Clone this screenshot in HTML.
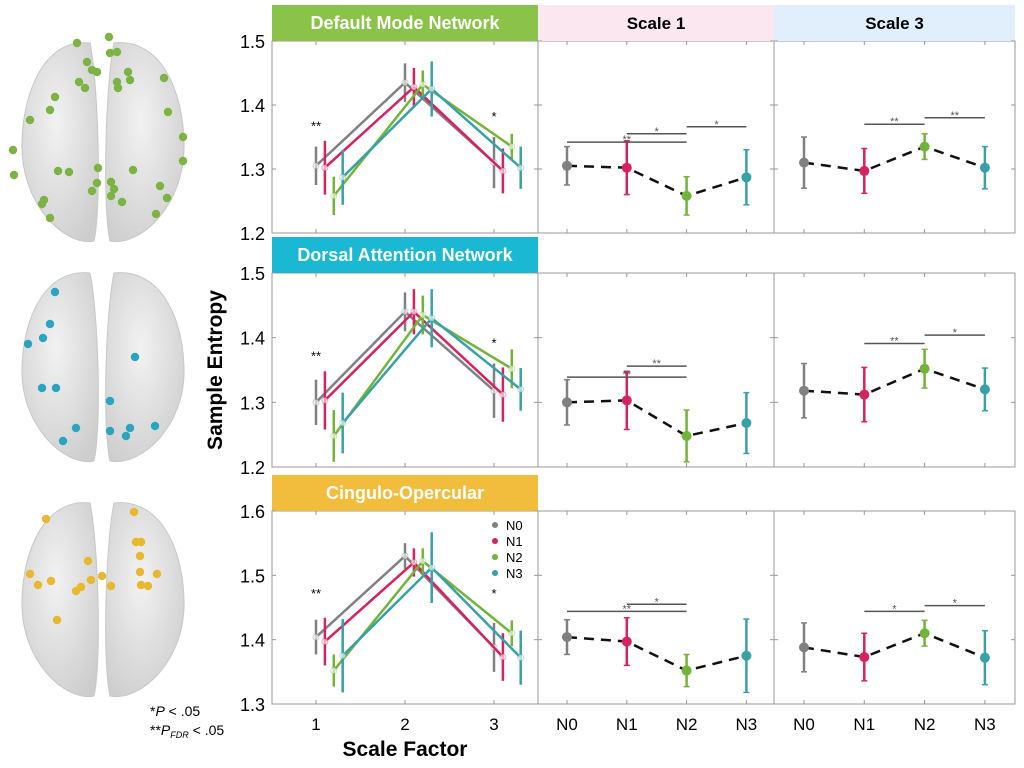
<!DOCTYPE html>
<html><head><meta charset="utf-8"><style>
html,body{margin:0;padding:0;background:#fff;width:1024px;height:768px;overflow:hidden}
svg{display:block;font-family:"Liberation Sans",sans-serif}
</style></head><body>
<svg id="fig" width="1024" height="768" viewBox="0 0 1024 768">
<defs>
<radialGradient id="brainG" cx="45%" cy="40%" r="70%"><stop offset="0" stop-color="#f2f2f2"/><stop offset="1" stop-color="#cdcdcd"/></radialGradient>
</defs>
<g id="brains"></g>
<g id="charts"></g>
<text x="222" y="370" transform="rotate(-90 222 370)" text-anchor="middle" font-size="21" font-weight="bold">Sample Entropy</text>
<text x="405" y="756" text-anchor="middle" font-size="21" font-weight="bold">Scale Factor</text>
<text x="150" y="716" font-size="14">*<tspan font-style="italic">P</tspan> &lt; .05</text>
<text x="150" y="735" font-size="14">**<tspan font-style="italic">P<tspan font-size="9" dy="3">FDR</tspan></tspan><tspan dy="-3"> &lt; .05</tspan></text>
</svg>
<script>
const groups = ["N0","N1","N2","N3"];
const colors = ["#808080","#d6225f","#74b33a","#3aa0a8"];
const networks = ["Default Mode Network","Dorsal Attention Network","Cingulo-Opercular"];
const headerColors = ["#8bc34a","#1ab8d2","#f2bd3c"];
// mean values [group][scale1,scale2,scale3]
const dmnMeans = [[1.305,1.435,1.31],[1.302,1.428,1.297],[1.258,1.432,1.335],[1.287,1.425,1.302]];
const danMeans = [[1.300,1.440,1.318],[1.303,1.440,1.312],[1.248,1.435,1.352],[1.268,1.430,1.320]];
const conMeans = [[1.404,1.530,1.388],[1.397,1.520,1.373],[1.352,1.522,1.410],[1.375,1.512,1.372]];
const dmnErr = [[0.03,0.03,0.04],[0.042,0.03,0.035],[0.03,0.022,0.02],[0.043,0.043,0.033]];
const danErr = [[0.035,0.03,0.042],[0.045,0.035,0.042],[0.04,0.03,0.03],[0.047,0.045,0.033]];
const conErr = [[0.027,0.02,0.038],[0.037,0.022,0.037],[0.025,0.02,0.02],[0.057,0.055,0.042]];
const yTicksTop = [1.2,1.3,1.4,1.5];
const yTicksBottom = [1.3,1.4,1.5,1.6];
const xTickLabels = ["1","2","3"];
// significance bars: [from group, to group, level, label]
const sigScale1 = [[[0,2,1.342,"**"],[1,2,1.355,"*"],[2,3,1.366,"*"]],[[0,2,1.339,"**"],[1,2,1.356,"**"]],[[0,2,1.444,"**"],[1,2,1.455,"*"]]];
const sigScale3 = [[[1,2,1.370,"**"],[2,3,1.380,"**"]],[[1,2,1.391,"**"],[2,3,1.404,"*"]],[[1,2,1.444,"*"],[2,3,1.453,"*"]]];
const lineSig = [["**","*"],["**","*"],["**","*"]];
const lineSigLevel = [[1.36,1.375],[1.365,1.385],[1.465,1.465]];

const NS="http://www.w3.org/2000/svg";
function mk(tag,attrs,parent){const e=document.createElementNS(NS,tag);for(const k in attrs)e.setAttribute(k,attrs[k]);parent.appendChild(e);return e;}
const charts=document.getElementById('charts');
const rows=[{top:41,bot:233,ticks:yTicksTop,means:dmnMeans,err:dmnErr},
            {top:273,bot:467,ticks:yTicksTop,means:danMeans,err:danErr},
            {top:511,bot:704,ticks:yTicksBottom,means:conMeans,err:conErr}];
const L0=272,L1=538,M1=774,R1=1015;

rows.forEach((r,ri)=>{
  const g=mk('g',{},charts);
  
  
  const y0=r.ticks[0],y1=r.ticks[r.ticks.length-1];
  const ys=v=>r.bot-(v-y0)/(y1-y0)*(r.bot-r.top);
  const xs=v=>316+(v-1)*89;
  [[L0,L1],[L1,M1],[M1,R1]].forEach(([a,b])=>{
    const f=mk('rect',{x:a,y:r.top,width:b-a,height:r.bot-r.top,fill:'#fff',stroke:'#999','stroke-width':1},g);
    
    
  });
  const hh=mk('rect',{x:L0,y:r.top-36,width:L1-L0,height:36,fill:headerColors[ri]},g);
  
  
  const ht=mk('text',{x:(L0+L1)/2,y:r.top-12,'text-anchor':'middle','font-size':18,'font-weight':'bold',fill:'#fff'},g);
  ht.textContent=networks[ri];
  
  
  if(ri===0){
    [[L1,M1,'#fbe7f0','Scale 1'],[M1,R1,'#e1effc','Scale 3']].forEach(([a,b,c,t])=>{
      const rr=mk('rect',{x:a,y:5,width:b-a,height:36,fill:c},g);
      
      
      const tt=mk('text',{x:(a+b)/2,y:29,'text-anchor':'middle','font-size':17,'font-weight':'bold'},g);
      tt.textContent=t;
      
      
    });
  }
  r.ticks.forEach(t=>{
    const y=ys(t);
    const lb=mk('text',{x:265,y:y+7,'text-anchor':'end','font-size':18},g);
    lb.textContent=t.toFixed(1);
    
    
    [L0,L1,M1].forEach(a=>mk('line',{x1:a,x2:a+4,y1:y,y2:y,stroke:'#999'},g));
    [L1,M1,R1].forEach(b=>mk('line',{x1:b-4,x2:b,y1:y,y2:y,stroke:'#999'},g));
  });
  xTickLabels.forEach((t,i)=>{
    const x=xs(i+1);
    mk('line',{x1:x,x2:x,y1:r.bot,y2:r.bot-4,stroke:'#999'},g);
    mk('line',{x1:x,x2:x,y1:r.top,y2:r.top+4,stroke:'#999'},g);
    if(ri===2){const tl=mk('text',{x:x,y:r.bot+26,'text-anchor':'middle','font-size':17},g);tl.textContent=t;
      
      }
  });
  groups.forEach((gname,gi)=>{
    const off=gi*0.1;
    const pts=r.means[gi].map((m,si)=>[xs(si+1+off),ys(m)]);
    const pl=mk('polyline',{points:pts.map(p=>p.join(',')).join(' '),fill:'none',stroke:colors[gi],'stroke-width':2.5},g);
    
    
    r.means[gi].forEach((m,si)=>{
      const x=xs(si+1+off),e=r.err[gi][si];
      const eb=mk('line',{x1:x,x2:x,y1:ys(m-e),y2:ys(m+e),stroke:colors[gi],'stroke-width':2.5},g);
      
      
      mk('circle',{cx:x,cy:ys(m),r:3,fill:'#fff','fill-opacity':0.6,stroke:colors[gi],'stroke-opacity':0.4},g);
    });
  });
  [[1,0],[3,1]].forEach(([s,k])=>{
    const st=mk('text',{x:xs(s),y:ys(lineSigLevel[ri][k]),'text-anchor':'middle','font-size':13},g);
    st.textContent=lineSig[ri][k];
    
    
  });
  [[567,59.8,0,sigScale1[ri]],[804,60.3,2,sigScale3[ri]]].forEach(([x0,dx,si,sigs])=>{
    const gx=i=>x0+i*dx;
    groups.forEach((gn,gi)=>{
      mk('line',{x1:gx(gi),x2:gx(gi),y1:r.bot,y2:r.bot-4,stroke:'#999'},g);
      mk('line',{x1:gx(gi),x2:gx(gi),y1:r.top,y2:r.top+4,stroke:'#999'},g);
      if(ri===2){const tl=mk('text',{x:gx(gi),y:r.bot+26,'text-anchor':'middle','font-size':17},g);tl.textContent=gn;
        
        }
    });
    const pts=groups.map((_,gi)=>gx(gi)+','+ys(r.means[gi][si])).join(' ');
    const dl=mk('polyline',{points:pts,fill:'none',stroke:'#111','stroke-width':2.5,'stroke-dasharray':'10 7'},g);
    
    
    groups.forEach((gn,gi)=>{
      const m=r.means[gi][si],e=r.err[gi][si],x=gx(gi);
      const eb=mk('line',{x1:x,x2:x,y1:ys(m-e),y2:ys(m+e),stroke:colors[gi],'stroke-width':2.5},g);
      
      
      mk('line',{x1:x-3,x2:x+3,y1:ys(m-e),y2:ys(m-e),stroke:colors[gi],'stroke-width':1.5},g);
      mk('line',{x1:x-3,x2:x+3,y1:ys(m+e),y2:ys(m+e),stroke:colors[gi],'stroke-width':1.5},g);
      const c=mk('circle',{cx:x,cy:ys(m),r:5,fill:colors[gi]},g);
      
      
    });
    sigs.forEach(([a,b,lv,lab])=>{
      const sl=mk('line',{x1:gx(a),x2:gx(b),y1:ys(lv),y2:ys(lv),stroke:'#555','stroke-width':1.5},g);
      
      
      const t=mk('text',{x:(gx(a)+gx(b))/2,y:ys(lv)+1,'text-anchor':'middle','font-size':11,fill:'#555'},g);
      t.textContent=lab;
    });
  });
});
const lg=mk('g',{},charts);


groups.forEach((gn,gi)=>{
  const y=525+gi*16;
  mk('circle',{cx:495,cy:y,r:3,fill:colors[gi]},lg);
  const t=mk('text',{x:506,y:y+5,'font-size':13},lg);t.textContent=gn;
  
  
});
const br=document.getElementById('brains');
const dotColors=["#7cb342","#2aa5c0","#e8b830"];
const dotSets=[
 [[77,43],[87,62],[92,70],[97,72],[79,82],[85,88],[55,97],[50,110],[30,120],[13,150],[14,175],[58,171],[69,172],[98,168],[97,183],[92,191],[44,200],[42,204],[50,218],[109,37],[110,53],[117,52],[128,72],[130,80],[117,82],[118,88],[164,78],[168,112],[183,137],[183,161],[133,170],[111,182],[114,189],[111,196],[122,202],[160,186],[167,198],[156,214]],
 [[55,292],[50,324],[43,338],[28,344],[42,388],[56,388],[76,428],[63,441],[135,357],[110,401],[110,431],[130,428],[126,436],[155,426]],
 [[46,519],[134,512],[136,542],[141,542],[140,556],[88,561],[30,574],[38,585],[51,581],[76,591],[81,587],[91,580],[102,576],[111,586],[140,572],[157,574],[141,585],[148,586],[57,620]]];
[[40,245],[270,465],[500,700]].forEach(([t,b],ri)=>{
  const h=b-t;
  [[20,100],[104,186]].forEach(([a,c],hi)=>{
    const p=hi===0
      ? `M${c-10},${t+3} C${a+25},${t-2} ${a+3},${t+h*0.25} ${a+2},${t+h*0.5} C${a},${t+h*0.8} ${a+45},${b+2} ${c-6},${b-4} C${c+2},${b-40} ${c-2},${t+40} ${c-10},${t+3}Z`
      : `M${a+10},${t+3} C${c-25},${t-2} ${c-3},${t+h*0.25} ${c-2},${t+h*0.5} C${c},${t+h*0.8} ${c-45},${b+2} ${a+6},${b-4} C${a-2},${b-40} ${a+2},${t+40} ${a+10},${t+3}Z`;
    const e=mk('path',{d:p,fill:'url(#brainG)',stroke:'#c8c8c8'},br);
    
    
  });
  dotSets[ri].forEach(([x,y])=>mk('circle',{cx:x,cy:y,r:4.2,fill:dotColors[ri]},br));
});
</script>
</body></html>
